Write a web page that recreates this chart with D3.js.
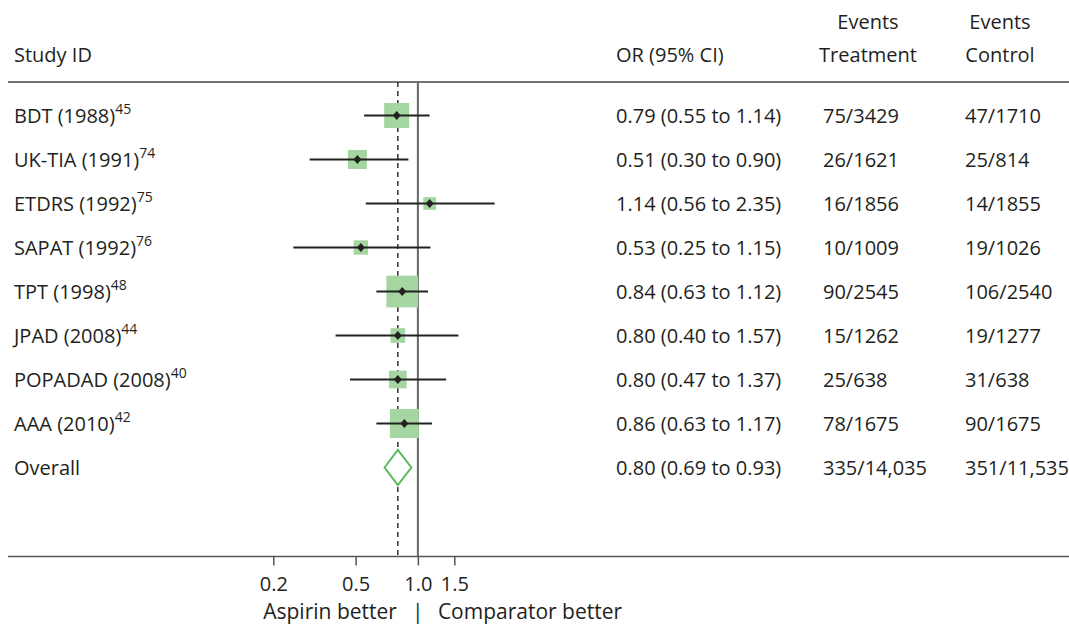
<!DOCTYPE html>
<html><head><meta charset="utf-8">
<script src="https://cdn.jsdelivr.net/npm/d3@7"></script>
<style>
body{margin:0;background:#fff;}
text{font-family:"Open Sans",sans-serif;fill:#231f20;}
</style></head>
<body><svg id="c" width="1069" height="624"></svg>
<script>
const studies = ["BDT (1988)","UK-TIA (1991)","ETDRS (1992)","SAPAT (1992)","TPT (1998)","JPAD (2008)","POPADAD (2008)","AAA (2010)"];
const refs = ["45","74","75","76","48","44","40","42"];
const orValues = [0.79,0.51,1.14,0.53,0.84,0.80,0.80,0.86];
const ciLow = [0.55,0.30,0.56,0.25,0.63,0.40,0.47,0.63];
const ciHigh = [1.14,0.90,2.35,1.15,1.12,1.57,1.37,1.17];
const weights = [16.8,9.7,4.3,5.5,27.0,5.8,8.4,22.6];
const orText = ["0.79 (0.55 to 1.14)","0.51 (0.30 to 0.90)","1.14 (0.56 to 2.35)","0.53 (0.25 to 1.15)","0.84 (0.63 to 1.12)","0.80 (0.40 to 1.57)","0.80 (0.47 to 1.37)","0.86 (0.63 to 1.17)"];
const eventsTreatment = ["75/3429","26/1621","16/1856","10/1009","90/2545","15/1262","25/638","78/1675"];
const eventsControl = ["47/1710","25/814","14/1855","19/1026","106/2540","19/1277","31/638","90/1675"];
const overallLabel = "Overall";
const overallOR = 0.80, overallLow = 0.69, overallHigh = 0.93;
const overallText = "0.80 (0.69 to 0.93)";
const overallTreatment = "335/14,035";
const overallControl = "351/11,535";
const tickValues = [0.2,0.5,1.0,1.5];
const tickLabels = ["0.2","0.5","1.0","1.5"];

const svg = d3.select("#c");
const x = d3.scaleLog().domain([0.2,1.5]).range([273.3,454.3]);
const y = d3.scaleLinear().domain([0,8]).range([115.5,467.5]);
const side = d3.scaleSqrt().domain([0,27]).range([0,31.7]);
const topY = 82, axisY = 556.5;
const fs = 20;
const colOR = 616, colT = 823, colC = 965;

// header
const hdr = svg.append("g").style("font-size", fs+"px");
hdr.append("text").attr("x",14).attr("y",62).text("Study ID");
hdr.append("text").attr("x",colOR).attr("y",62).text("OR (95% CI)");
hdr.append("text").attr("x",868).attr("y",29).attr("text-anchor","middle").text("Events");
hdr.append("text").attr("x",868).attr("y",62).attr("text-anchor","middle").text("Treatment");
hdr.append("text").attr("x",1000).attr("y",29).attr("text-anchor","middle").text("Events");
hdr.append("text").attr("x",1000).attr("y",62).attr("text-anchor","middle").text("Control");

svg.append("line").attr("x1",8).attr("x2",1069).attr("y1",topY).attr("y2",topY).attr("stroke","#444").attr("stroke-width",1.5);

// reference lines
svg.append("line").attr("x1",x(overallOR)).attr("x2",x(overallOR)).attr("y1",topY).attr("y2",axisY)
  .attr("stroke","#333").attr("stroke-width",1.5).attr("stroke-dasharray","5,4");
svg.append("line").attr("x1",x(1)).attr("x2",x(1)).attr("y1",topY).attr("y2",axisY)
  .attr("stroke","#666").attr("stroke-width",2);

// study rows
const rows = svg.append("g");
studies.forEach((s,i)=>{
  const cy = y(i);
  const w = side(weights[i]);
  rows.append("rect").attr("x",x(orValues[i])-w/2).attr("y",cy-w/2).attr("width",w).attr("height",w)
    .attr("fill","#a5d5a0");
  rows.append("line").attr("x1",x(ciLow[i])).attr("x2",x(ciHigh[i])).attr("y1",cy).attr("y2",cy)
    .attr("stroke","#222").attr("stroke-width",2);
  const px = x(orValues[i]);
  rows.append("path").attr("d",`M${px-4},${cy}L${px},${cy-4.5}L${px+4},${cy}L${px},${cy+4.5}Z`).attr("fill","#222");
  const t = rows.append("text").attr("x",14).attr("y",cy+7).style("font-size",fs+"px");
  t.append("tspan").text(s);
  t.append("tspan").attr("dy",-8.5).style("font-size","14px").text(refs[i]);
  rows.append("text").attr("x",colOR).attr("y",cy+7).style("font-size",fs+"px").text(orText[i]);
  rows.append("text").attr("x",colT).attr("y",cy+7).style("font-size",fs+"px").text(eventsTreatment[i]);
  rows.append("text").attr("x",colC).attr("y",cy+7).style("font-size",fs+"px").text(eventsControl[i]);
});

// overall
const oy = y(8);
svg.append("path").attr("d",`M${x(overallLow)},${oy}L${x(overallOR)},${oy-17.5}L${x(overallHigh)},${oy}L${x(overallOR)},${oy+17.5}Z`)
  .attr("fill","#fff").attr("stroke","#5cb85a").attr("stroke-width",2);
svg.append("text").attr("x",14).attr("y",oy+7).style("font-size",fs+"px").text(overallLabel);
svg.append("text").attr("x",colOR).attr("y",oy+7).style("font-size",fs+"px").text(overallText);
svg.append("text").attr("x",colT).attr("y",oy+7).style("font-size",fs+"px").text(overallTreatment);
svg.append("text").attr("x",colC).attr("y",oy+7).style("font-size",fs+"px").text(overallControl);

// axis
svg.append("line").attr("x1",8).attr("x2",1069).attr("y1",axisY).attr("y2",axisY).attr("stroke","#555").attr("stroke-width",1.5);
const ax = svg.append("g").attr("transform",`translate(0,${axisY})`)
  .call(d3.axisBottom(x).tickValues(tickValues).tickFormat((d,i)=>tickLabels[i]).tickSize(9).tickPadding(6));
ax.select(".domain").remove();
ax.selectAll(".tick line").attr("stroke","#555").attr("stroke-width",1.5);
ax.selectAll(".tick text").style("font-size",fs+"px").style("font-family","'Open Sans',sans-serif")
  .attr("fill","#231f20").attr("y",34.5).attr("dy",0);

svg.append("text").attr("x",x(1)-21).attr("y",619).attr("text-anchor","end").style("font-size","21px").text("Aspirin better");
svg.append("text").attr("x",x(1)).attr("y",619).attr("text-anchor","middle").style("font-size","21px").text("|");
svg.append("text").attr("x",x(1)+20).attr("y",619).style("font-size","21px").text("Comparator better");
</script></body></html>
